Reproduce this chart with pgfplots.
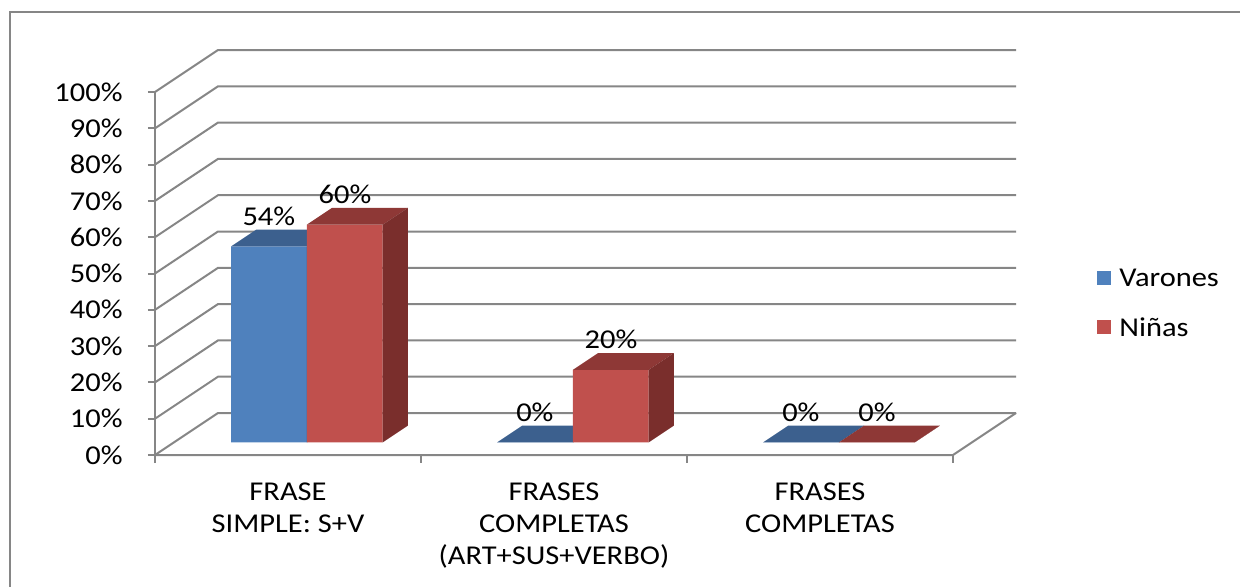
\documentclass[border=0pt]{standalone}
\usepackage{fontspec}
\setmainfont{Carlito}[FakeStretch=1.12]
\usepackage{pgfplots}
\pgfplotsset{compat=1.18}
\definecolor{gridc}{RGB}{134,134,134}
\definecolor{vfront}{RGB}{79,129,189}
\definecolor{vtop}{RGB}{60,96,142}
\definecolor{vside}{RGB}{46,76,112}
\definecolor{nfront}{RGB}{192,80,77}
\definecolor{ntop}{RGB}{142,56,54}
\definecolor{nside}{RGB}{122,46,44}
\newcommand{\lblfont}{\fontsize{13.6}{16}\selectfont}
% x0, x1, height, front, top, side
\newcommand{\drawbar}[6]{%
  \addplot3[fill=#4, draw=none] coordinates {(#1,0.3,0) (#2,0.3,0) (#2,0.3,#3) (#1,0.3,#3) (#1,0.3,0)};
  \addplot3[fill=#5, draw=none] coordinates {(#1,0.3,#3) (#2,0.3,#3) (#2,0.7,#3) (#1,0.7,#3) (#1,0.3,#3)};
  \addplot3[fill=#6, draw=none] coordinates {(#2,0.3,0) (#2,0.7,0) (#2,0.7,#3) (#2,0.3,#3) (#2,0.3,0)};
}
\begin{document}
\begin{tikzpicture}[x=0.5pt,y=0.5pt]
\begin{axis}[hide axis, clip=false,
  x={(133pt,0pt)}, y={(31.5pt,21pt)}, z={(0pt,1.815pt)},
  xmin=0,xmax=3,ymin=0,ymax=1,zmin=0,zmax=100]
% gridlines (side wall + back wall)
\pgfplotsinvokeforeach{0,10,...,100}{
  \addplot3[gridc, line width=1pt] coordinates {(0,0,#1) (0,1,#1) (3,1,#1)};
  \addplot3[gridc, line width=1pt] coordinates {(-0.027,0,#1) (0,0,#1)};
  \node[anchor=east, xshift=-16pt, inner sep=0pt, font=\lblfont] at (axis cs:0,0,#1) {#1\%};
}
% axis + floor
\addplot3[gridc, line width=1pt] coordinates {(0,0,-2.2) (0,0,100)};
\addplot3[gridc, line width=1pt] coordinates {(0,0,0) (3,0,0) (3,1,0)};
\pgfplotsinvokeforeach{1,2,3}{
  \addplot3[gridc, line width=1pt] coordinates {(#1,0,0) (#1,0,-2.2)};
}
% bars
\drawbar{0.215}{0.5}{54}{vfront}{vtop}{vside}
\drawbar{0.5}{0.785}{60}{nfront}{ntop}{nside}
\drawbar{1.215}{1.5}{0}{vfront}{vtop}{vside}
\drawbar{1.5}{1.785}{20}{nfront}{ntop}{nside}
\drawbar{2.215}{2.5}{0}{vfront}{vtop}{vside}
\drawbar{2.5}{2.785}{0}{nfront}{ntop}{nside}
% value labels
\node[anchor=base, yshift=10.5pt, inner sep=0pt, font=\lblfont] at (axis cs:0.357,0.3,54) {54\%};
\node[anchor=base, yshift=10.5pt, inner sep=0pt, font=\lblfont] at (axis cs:0.643,0.3,60) {60\%};
\node[anchor=base, yshift=10.5pt, inner sep=0pt, font=\lblfont] at (axis cs:1.357,0.3,0) {0\%};
\node[anchor=base, yshift=10.5pt, inner sep=0pt, font=\lblfont] at (axis cs:1.643,0.3,20) {20\%};
\node[anchor=base, yshift=10.5pt, inner sep=0pt, font=\lblfont] at (axis cs:2.357,0.3,0) {0\%};
\node[anchor=base, yshift=10.5pt, inner sep=0pt, font=\lblfont] at (axis cs:2.643,0.3,0) {0\%};
% category labels
\node[anchor=north, yshift=-13.5pt, inner sep=0pt, align=center, font=\lblfont] at (axis cs:0.5,0,0) {FRASE\\SIMPLE: S+V};
\node[anchor=north, yshift=-13.5pt, inner sep=0pt, align=center, font=\lblfont] at (axis cs:1.5,0,0) {FRASES\\COMPLETAS\\(ART+SUS+VERBO)};
\node[anchor=north, yshift=-13.5pt, inner sep=0pt, align=center, font=\lblfont] at (axis cs:2.5,0,0) {FRASES\\COMPLETAS};
\coordinate (O) at (axis cs:0,0,0);
\end{axis}
\begin{scope}[shift={(O)}]
\draw[gridc, line width=1pt] (-145,-140) rectangle (1095,443);
\fill[vfront] (942,170) rectangle (956,184);
\node[anchor=west, inner sep=0pt, font=\lblfont] at (964,177) {Varones};
\fill[nfront] (942,121) rectangle (956,135);
\node[anchor=west, inner sep=0pt, font=\lblfont] at (964,128) {Niñas};
\pgfresetboundingbox
\path[use as bounding box] (-155,-131) rectangle (1085,455);
\end{scope}
\end{tikzpicture}
\end{document}
